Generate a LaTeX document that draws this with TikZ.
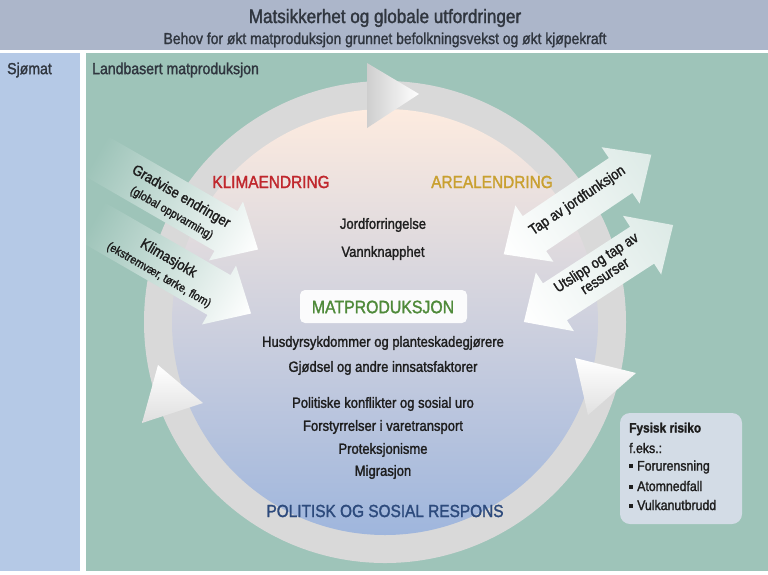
\documentclass[tikz,border=0pt]{standalone}
\usepackage{fontspec}
\setmainfont{Liberation Sans}[FakeStretch=0.88, FakeBold=1.6]
\definecolor{banner}{HTML}{ACB6CA}
\definecolor{seacol}{HTML}{B5C9E6}
\definecolor{landcol}{HTML}{9EC4B9}
\definecolor{ringcol}{HTML}{D9D9D9}
\definecolor{peach}{HTML}{FDEBDF}
\definecolor{lav}{HTML}{E4E0EA}
\definecolor{bluefill}{HTML}{9FB6DD}
\definecolor{klima}{HTML}{C0272D}
\definecolor{areal}{HTML}{C9A030}
\definecolor{matgreen}{HTML}{4F8A3A}
\definecolor{polblue}{HTML}{2D4A7C}
\definecolor{txt}{HTML}{1E1E1E}
\definecolor{hdr}{HTML}{30363F}
\definecolor{boxcol}{HTML}{D3DCE6}
\begin{document}
\begin{tikzpicture}[x=1pt,y=-1pt,
  body/.style={font=\fontsize{14.8}{17}\selectfont, text=txt, inner sep=0pt},
  headtxt/.style={font=\fontsize{17.5}{20}\selectfont, inner sep=0pt},
  arrtxt/.style={font=\fontsize{14.8}{16}\selectfont, text=txt, inner sep=0pt, align=center},
  arrsub/.style={font=\fontsize{12}{14}\selectfont, text=txt, inner sep=0pt},
  boxtxt/.style={font=\fontsize{14}{16}\selectfont, text=txt, inner sep=0pt, anchor=west},
  lefthead/.style={left color=landcol, middle color=landcol!22!white, right color=white},
  dblarrow/.style={left color=white, right color=landcol!35!white}
]
\useasboundingbox (0,0) rectangle (768,574);
\fill[white] (0,0) rectangle (768,574);
% bands
\fill[banner] (0,0) rectangle (768,50);
\fill[seacol] (0,53) rectangle (80,571);
\fill[landcol] (86,53) rectangle (768,571);
\node[font=\fontsize{19.4}{22}\selectfont, text=hdr, anchor=base, inner sep=0pt] (title) at (385,23) {Matsikkerhet og globale utfordringer};
\node[font=\fontsize{15.8}{18}\selectfont, text=hdr, anchor=base, inner sep=0pt] (subtitle) at (385,44) {Behov for økt matproduksjon grunnet befolkningsvekst og økt kjøpekraft};
\node[font=\fontsize{16}{18}\selectfont, text=hdr, anchor=west, inner sep=0pt] (sea) at (7,70) {Sjømat};
\node[font=\fontsize{16}{18}\selectfont, text=hdr, anchor=west, inner sep=0pt] (land) at (92,70) {Landbasert matproduksjon};
% ring
\coordinate (c) at (385,322);
\fill[ringcol] (c) circle[radius=241];
\shade[top color=peach, middle color=lav, bottom color=bluefill] (c) circle[radius=213];
% ring heads
\shade[left color=ringcol!95!black, right color=white] (367,63) -- (419,94) -- (367,128) -- cycle;
\shade[top color=white, bottom color=ringcol!80!white] (575,358) -- (636,373) -- (588,415) -- cycle;
\shade[top color=white, bottom color=ringcol!85!white] (142,423) -- (158,365) -- (203,403) -- cycle;
% texts in circle
\node[headtxt, text=klima] (klima) at (271,182) {KLIMAENDRING};
\node[headtxt, text=areal] (areal) at (492,182) {AREALENDRING};
\node[body] (jord) at (383,225) {Jordforringelse};
\node[body] (vann) at (383,253) {Vannknapphet};
\fill[white, opacity=0.92, rounded corners=5] (300,290) rectangle (467,323);
\node[font=\fontsize{18}{20}\selectfont, text=matgreen, inner sep=0pt] (mat) at (383,307) {MATPRODUKSJON};
\node[body] (hus) at (383,343) {Husdyrsykdommer og planteskadegjørere};
\node[body] (gjod) at (383,368) {Gjødsel og andre innsatsfaktorer};
\node[body] (pol) at (383,404) {Politiske konflikter og sosial uro};
\node[body] (forst) at (383,427) {Forstyrrelser i varetransport};
\node[body] (prot) at (383,450) {Proteksjonisme};
\node[body] (migr) at (383,472) {Migrasjon};
\node[headtxt, text=polblue] (polresp) at (385,511) {POLITISK OG SOSIAL RESPONS};
% left arrows (clipped to the land area)
\begin{scope}
  \clip (86,53) rectangle (768,571);
  \begin{scope}[transform canvas={shift={(226,231)},rotate=-30}]
    \shade[lefthead] (-150,-23) -- (0,-23) -- (0,-34) -- (37,0) -- (0,34) -- (0,23) -- (-150,23) -- cycle;
  \end{scope}
  \begin{scope}[transform canvas={shift={(219,295)},rotate=-30}]
    \shade[lefthead] (-146,-23) -- (0,-23) -- (0,-34) -- (37,0) -- (0,34) -- (0,23) -- (-146,23) -- cycle;
  \end{scope}
\end{scope}
\node[arrtxt, rotate=-30] (grad) at (181,197) {Gradvise endringer};
\node[arrsub, rotate=-30] (glob) at (171.5,213.4) {(global oppvarming)};
\node[arrtxt, rotate=-30] (sjokk) at (168.3,258.8) {Klimasjokk};
\node[arrsub, rotate=-30] (ekst) at (158.8,275.3) {(ekstremvær, tørke, flom)};
% right double arrows
\begin{scope}[transform canvas={shift={(577.5,204.5)},rotate=34}]
  \shade[dblarrow] (-52,-21) -- (52,-21) -- (52,-34) -- (89,0) -- (52,34) -- (52,21) -- (-52,21) -- (-52,34) -- (-89,0) -- (-52,-34) -- cycle;
\end{scope}
\begin{scope}[transform canvas={shift={(598.5,273.5)},rotate=33}]
  \shade[dblarrow] (-52,-22) -- (52,-22) -- (52,-35) -- (89,0) -- (52,35) -- (52,22) -- (-52,22) -- (-52,35) -- (-89,0) -- (-52,-35) -- cycle;
\end{scope}
\node[arrtxt, rotate=34] (tap) at (577.5,200.9) {Tap av jordfunksjon};
\node[arrtxt, rotate=33] (utsl) at (600.2,268.8) {Utslipp og tap av\\ressurser};
% physical risk box
\fill[boxcol, rounded corners=10] (620,413) rectangle (742,524);
\node[boxtxt, font=\bfseries\fontsize{13.5}{16}\selectfont] (fys) at (629,429) {Fysisk risiko};
\node[boxtxt] (feks) at (629,448) {f.eks.:};
\node[boxtxt] (b1) at (629,467) {\rule[2.5pt]{4pt}{4pt}\hspace{4pt}Forurensning};
\node[boxtxt] (b2) at (629,486) {\rule[2.5pt]{4pt}{4pt}\hspace{4pt}Atomnedfall};
\node[boxtxt] (b3) at (629,505) {\rule[2.5pt]{4pt}{4pt}\hspace{4pt}Vulkanutbrudd};
\end{tikzpicture}
\end{document}
